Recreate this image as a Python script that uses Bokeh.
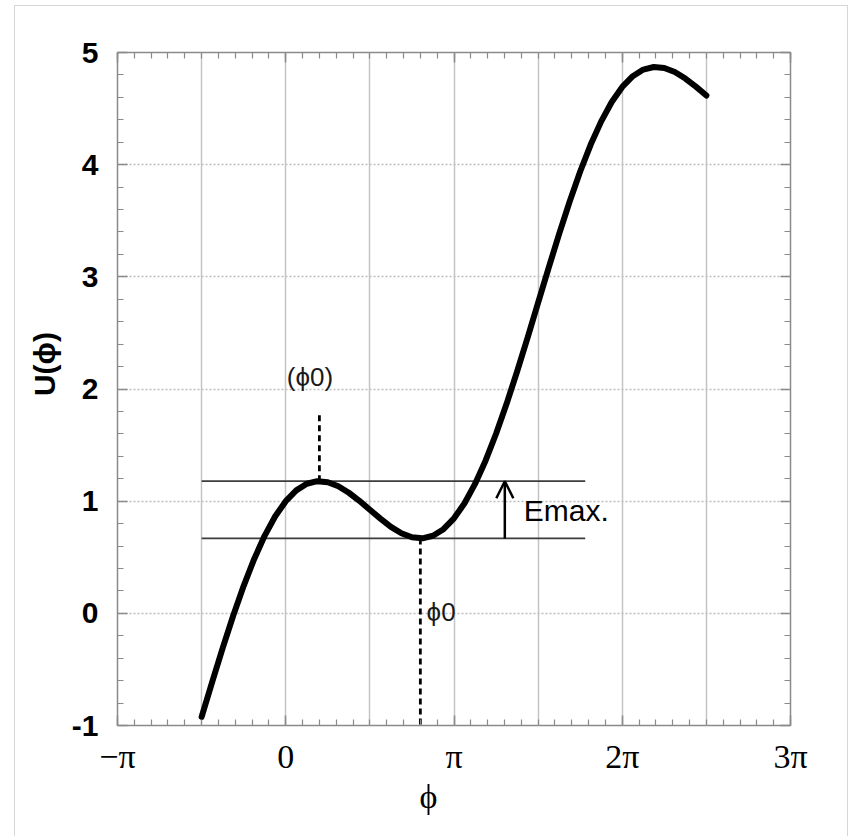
import math
from bokeh.plotting import figure
from bokeh.models import Range1d, FixedTicker, LinearAxis, Label, Arrow, OpenHead
from bokeh.embed import file_html
from bokeh.resources import INLINE

# phase in units of pi, and potential
phi_pi = [-0.5, -0.4375, -0.375, -0.3125, -0.25, -0.1875, -0.125, -0.0625,
          0.0, 0.0625, 0.125, 0.1875, 0.25, 0.3125, 0.375, 0.4375,
          0.5, 0.5625, 0.625, 0.6875, 0.75, 0.8125, 0.875, 0.9375,
          1.0, 1.0625, 1.125, 1.1875, 1.25, 1.3125, 1.375, 1.4375,
          1.5, 1.5625, 1.625, 1.6875, 1.75, 1.8125, 1.875, 1.9375,
          2.0, 2.0625, 2.125, 2.1875, 2.25, 2.3125, 2.375, 2.4375, 2.5]
u_phi = [-0.923, -0.613, -0.310, -0.022, 0.245, 0.485, 0.693, 0.865,
         1.000, 1.096, 1.155, 1.178, 1.169, 1.133, 1.075, 1.003,
         0.923, 0.844, 0.771, 0.714, 0.678, 0.669, 0.692, 0.750,
         0.847, 0.981, 1.154, 1.361, 1.601, 1.868, 2.156, 2.459,
         2.770, 3.080, 3.383, 3.672, 3.939, 4.179, 4.386, 4.559,
         4.693, 4.789, 4.848, 4.871, 4.862, 4.826, 4.768, 4.696, 4.617]

# annotation values
phi_top_pi = 0.2
phi_min_pi = 0.8
u_top = 1.178
u_min = 0.668
level_x = [-0.5, 1.78]
dash_top_end = 1.785
arrow_x = 1.302

x_ticks = [-1, 0, 1, 2, 3]
x_tick_labels = ["\u2212\u03c0", "0", "\u03c0", "2\u03c0", "3\u03c0"]
x_minor = [round(-1 + 0.1 * i, 2) for i in range(41)]
x_grid = [-0.5, 0, 0.5, 1, 1.5, 2, 2.5]
y_ticks = [-1, 0, 1, 2, 3, 4, 5]
y_tick_labels = ["-1", "0", "1", "2", "3", "4", "5"]
y_minor = [round(-1 + 0.2 * i, 2) for i in range(31)]
y_grid = [0, 1, 2, 3, 4]

NBSP = "\u00a0"

p = figure(width=852, height=836, x_range=Range1d(-1, 3), y_range=Range1d(-1, 5),
           output_backend="svg", toolbar_location=None,
           min_border_left=117, min_border_right=62, min_border_top=52, min_border_bottom=111)
p.background_fill_color = "white"
p.border_fill_color = None
p.outline_line_color = "#8a8a8a"
p.outline_line_width = 1.5
# light outer frame of the picture, drawn behind the transparent canvas border
p.styles = {
    "background-color": "white",
    "background-image": ("linear-gradient(#d6d6d6,#d6d6d6), linear-gradient(#d6d6d6,#d6d6d6), "
                         "linear-gradient(#d6d6d6,#d6d6d6)"),
    "background-position": "14px 5px, 14px 5px, 847px 5px",
    "background-size": "834px 1px, 1px 831px, 1px 831px",
    "background-repeat": "no-repeat",
}


def style_axis(ax):
    ax.axis_line_color = None
    ax.major_tick_line_color = "#8a8a8a"
    ax.minor_tick_line_color = "#8a8a8a"
    ax.major_tick_line_width = 1.5
    ax.minor_tick_line_width = 1.2
    ax.major_tick_in = 10
    ax.major_tick_out = 0
    ax.minor_tick_in = 6
    ax.minor_tick_out = 0


p.xaxis.ticker = FixedTicker(ticks=x_ticks, minor_ticks=x_minor)
p.xaxis.major_label_overrides = dict(zip(x_ticks, x_tick_labels))
p.xaxis.major_label_text_font = "Liberation Serif"
p.xaxis.major_label_text_font_size = "34px"
p.xaxis.major_label_text_color = "black"
p.xaxis.major_label_standoff = 12
# trailing spaces shift the centred title to the left, as in the picture
p.xaxis.axis_label = "\u03d5" + NBSP * 6
p.xaxis.axis_label_text_font = "Liberation Serif"
p.xaxis.axis_label_text_font_style = "normal"
p.xaxis.axis_label_text_font_size = "34px"
p.xaxis.axis_label_text_color = "black"
p.xaxis.axis_label_standoff = 0
style_axis(p.xaxis[0])

p.yaxis.ticker = FixedTicker(ticks=y_ticks, minor_ticks=y_minor)
p.yaxis.major_label_overrides = dict(zip(y_ticks, y_tick_labels))
p.yaxis.major_label_text_font = "Liberation Sans"
p.yaxis.major_label_text_font_style = "bold"
p.yaxis.major_label_text_font_size = "30px"
p.yaxis.major_label_text_color = "black"
p.yaxis.major_label_standoff = 19
# leading spaces shift the centred title upwards, as in the picture
p.yaxis.axis_label = NBSP * 6 + "U(\u03d5)"
p.yaxis.axis_label_text_font = "Liberation Sans"
p.yaxis.axis_label_text_font_style = "bold"
p.yaxis.axis_label_text_font_size = "30px"
p.yaxis.axis_label_text_color = "black"
p.yaxis.axis_label_standoff = 8
style_axis(p.yaxis[0])

top = LinearAxis(ticker=FixedTicker(ticks=x_ticks, minor_ticks=x_minor),
                 major_label_overrides={t: "" for t in x_ticks})
style_axis(top)
p.add_layout(top, "above")
right = LinearAxis(ticker=FixedTicker(ticks=y_ticks, minor_ticks=y_minor),
                   major_label_overrides={t: "" for t in y_ticks})
style_axis(right)
p.add_layout(right, "right")

p.xgrid.ticker = FixedTicker(ticks=x_grid)
p.xgrid.grid_line_color = "#c4c4c4"
p.xgrid.grid_line_width = 1.5
p.ygrid.ticker = FixedTicker(ticks=y_grid)
p.ygrid.grid_line_color = "#bdbdbd"
p.ygrid.grid_line_width = 1.5
p.ygrid.grid_line_dash = "2 2"

# energy levels
p.line(level_x, [u_top, u_top], line_color="#3c3c3c", line_width=1.8)
p.line(level_x, [u_min, u_min], line_color="#3c3c3c", line_width=1.8)

# dashed markers
p.line([phi_top_pi, phi_top_pi], [u_top, dash_top_end], line_color="black", line_width=2.8, line_dash="6 4")
p.line([phi_min_pi, phi_min_pi], [u_min, -1], line_color="black", line_width=2.8, line_dash="6 4")

# curve
p.line(phi_pi, u_phi, line_color="black", line_width=6, line_join="round", line_cap="round")

# Emax arrow
p.add_layout(Arrow(end=OpenHead(size=17, line_width=2.5, line_color="black"),
                   x_start=arrow_x, y_start=u_min, x_end=arrow_x, y_end=u_top,
                   line_width=2.5, line_color="black"))

p.add_layout(Label(x=1.415, y=0.915, text="Emax.", text_font="Liberation Sans", text_font_size="30px",
                   text_baseline="middle", text_align="left", text_color="black"))
p.add_layout(Label(x=0.144, y=2.106, text="(\u03d50)", text_font="Liberation Sans", text_font_size="26px",
                   text_baseline="middle", text_align="center", text_color="#1a1a1a"))
p.add_layout(Label(x=0.837, y=0.01, text="\u03d50", text_font="Liberation Sans", text_font_size="26px",
                   text_baseline="middle", text_align="left", text_color="#1a1a1a"))

open("out.html", "w").write(file_html(p, INLINE))
